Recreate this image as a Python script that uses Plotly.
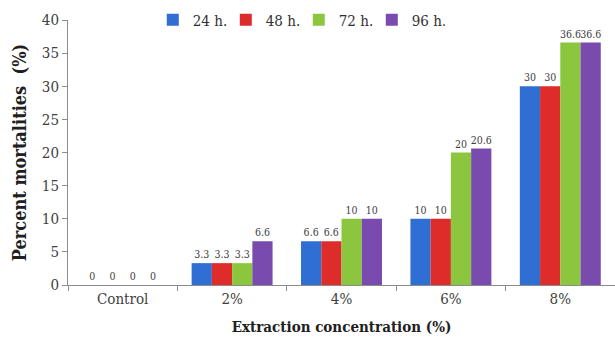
import plotly.graph_objects as go

categories = ["Control", "2%", "4%", "6%", "8%"]
series_names = ["24 h.", "48 h.", "72 h.", "96 h."]
mortality_24h = [0, 3.3, 6.6, 10, 30]
mortality_48h = [0, 3.3, 6.6, 10, 30]
mortality_72h = [0, 3.3, 10, 20, 36.6]
mortality_96h = [0, 6.6, 10, 20.6, 36.6]
y_ticks = [0, 5, 10, 15, 20, 25, 30, 35, 40]

colors = ["#2F6FD3", "#DD2C2A", "#8CC63F", "#7A4BAE"]
series_values = [mortality_24h, mortality_48h, mortality_72h, mortality_96h]

serif = "DejaVu Serif Condensed"

fig = go.Figure()
for name, vals, col in zip(series_names, series_values, colors):
    fig.add_trace(go.Bar(
        x=categories, y=vals, name=name,
        marker=dict(color=col, line=dict(width=0)),
        text=[f"{v:g}" for v in vals],
        textposition="outside",
        constraintext="none",
        textfont=dict(family=serif, size=10.5, color="#404040"),
        cliponaxis=False,
    ))

fig.update_layout(
    width=615, height=353,
    margin=dict(l=68, r=0, t=20, b=68),
    paper_bgcolor="white", plot_bgcolor="white",
    barmode="group", bargap=0.26, bargroupgap=0,
    font=dict(family=serif, color="#404040"),
    legend=dict(
        orientation="h", x=0.155, y=1.0, xanchor="left", yanchor="middle",
        font=dict(family=serif, size=15, color="#303030"),
        itemwidth=30, entrywidth=28, entrywidthmode="pixels",
        bgcolor="rgba(0,0,0,0)",
    ),
    xaxis=dict(
        showline=True, linecolor="#8c8c8c", linewidth=1,
        ticks="outside", tickson="boundaries", ticklen=5, tickcolor="#8c8c8c",
        tickfont=dict(family=serif, size=15, color="#404040"),
        title=dict(text="<b>Extraction concentration (%)</b>",
                   font=dict(family=serif, size=15, color="#202020"), standoff=14),
        showgrid=False,
    ),
    yaxis=dict(
        range=[0, 40], tickvals=y_ticks,
        showline=True, linecolor="#8c8c8c", linewidth=1,
        ticks="outside", ticklen=5, tickcolor="#8c8c8c",
        tickfont=dict(family=serif, size=15, color="#404040"),
        title=dict(text="<b>Percent mortalities  (%)</b>",
                   font=dict(family=serif, size=18, color="#202020"), standoff=10),
        showgrid=False, zeroline=False,
    ),
)

fig.write_html("out.html")
